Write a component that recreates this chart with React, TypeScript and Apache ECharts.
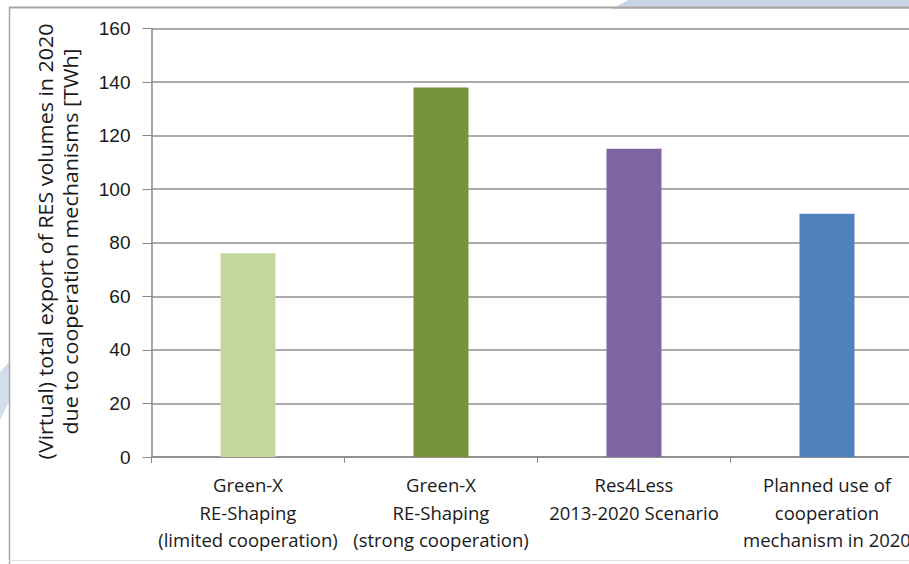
import React, { useEffect, useRef } from "react";
import * as echarts from "echarts";

const categories = [
  "Green-X\nRE-Shaping\n(limited cooperation)",
  "Green-X\nRE-Shaping\n(strong cooperation)",
  "Res4Less\n2013-2020 Scenario",
  "Planned use of\ncooperation\nmechanism in 2020",
];
const values = [76.1, 138, 115.1, 90.8];
const barColors = ["#C3D69B", "#77933C", "#8064A2", "#4F81BD"];
const yTicks = [0, 20, 40, 60, 80, 100, 120, 140, 160];
const yAxisName = "(Virtual) total export of RES volumes in 2020\ndue to cooperation mechanisms [TWh]";

export default function App() {
  const ref = useRef<HTMLDivElement>(null);
  useEffect(() => {
    if (!ref.current) return;
    const chart = echarts.init(ref.current, undefined, { renderer: "svg" });
    chart.setOption({
      animation: false,
      backgroundColor: "#ffffff",
      graphic: [
        {
          type: "polygon",
          z: -10,
          shape: { points: [[612, 9], [628, 0], [940, 0], [940, 9]] },
          style: { fill: "#C6D4E6" },
        },
        {
          type: "polygon",
          z: -10,
          shape: { points: [[0, 372], [9, 362], [9, 402], [0, 420]] },
          style: { fill: "#D3DEEC" },
        },
        {
          type: "line",
          shape: { x1: 9, y1: 7.5, x2: 940, y2: 7.5 },
          style: { stroke: "#A6A6A6", lineWidth: 2 },
        },
        {
          type: "line",
          shape: { x1: 9.5, y1: 7, x2: 9.5, y2: 564 },
          style: { stroke: "#A6A6A6", lineWidth: 1.5 },
        },
        {
          type: "line",
          shape: { x1: 9, y1: 560.5, x2: 940, y2: 560.5 },
          style: { stroke: "#E0E0E0", lineWidth: 1 },
        },
        {
          type: "text",
          x: 57.5,
          y: 241.5,
          rotation: Math.PI / 2,
          scaleX: 1.07,
          style: {
            text: yAxisName,
            fill: "#1a1a1a",
            font: '20px "Open Sans", sans-serif',
            align: "center",
            verticalAlign: "middle",
            lineHeight: 25,
          },
        },
      ],
      grid: { left: 151.5, top: 28.5, width: 772, height: 428.5 },
      xAxis: {
        type: "category",
        data: categories,
        axisLine: { lineStyle: { color: "#8a8a8a", width: 1.5 } },
        axisTick: { show: true, length: 6, lineStyle: { color: "#8a8a8a" } },
        axisLabel: {
          color: "#1a1a1a",
          fontFamily: '"Open Sans", sans-serif',
          fontSize: 18.5,
          lineHeight: 27.5,
          margin: 14,
          interval: 0,
        },
      },
      yAxis: {
        type: "value",
        min: yTicks[0],
        max: yTicks[yTicks.length - 1],
        interval: 20,
        axisLine: { show: true, lineStyle: { color: "#8a8a8a", width: 1.5 } },
        axisTick: { show: true, length: 9, inside: false, lineStyle: { color: "#8a8a8a" } },
        axisLabel: {
          color: "#1a1a1a",
          fontFamily: '"Liberation Sans", Arial, sans-serif',
          fontSize: 19,
          margin: 21,
        },
        splitLine: { show: true, lineStyle: { color: "#8f8f8f", width: 1.5 } },
      },
      series: [
        {
          type: "bar",
          data: values.map((v, i) => ({ value: v, itemStyle: { color: barColors[i] } })),
          barWidth: 55,
        },
      ],
    });
    return () => chart.dispose();
  }, []);
  return (
    <div style={{ position: "absolute", left: 0, top: 0, width: 909, height: 564, overflow: "hidden" }}>
      <div ref={ref} style={{ width: 940, height: 564 }} />
    </div>
  );
}
